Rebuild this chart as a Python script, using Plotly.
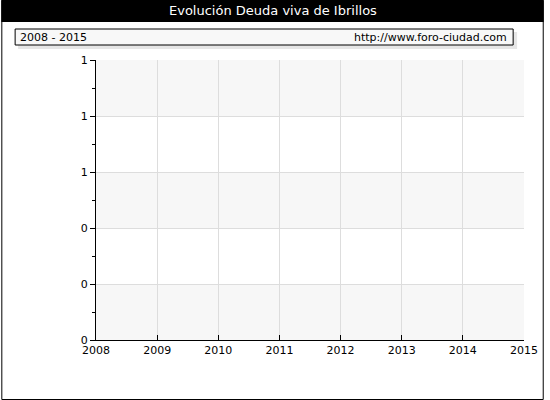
import plotly.graph_objects as go

# -------------------- data --------------------
years = [2008, 2009, 2010, 2011, 2012, 2013, 2014, 2015]
deuda = []  # no debt values published for this municipality

y_ticks = [0, 0.2, 0.4, 0.6, 0.8, 1.0]
y_labels = ["0", "0", "0", "1", "1", "1"]
band_edges = [0, 0.2, 0.4, 0.6, 0.8, 1.0]

title = "Evolución Deuda viva de Ibrillos"
period = "2008 - 2015"
source = "http://www.foro-ciudad.com"

# -------------------- layout geometry (pixels) --------------------
W, H = 550, 400
ml, mr, mt, mb = 96, 20, 60, 60
pw, ph = W - ml - mr, H - mt - mb


def px(x):
    return (x - ml) / pw


def py(y):
    return (H - mb - y) / ph


font = "DejaVu Sans"
band_c = "#f7f7f7"
grid_c = "#dddddd"

fig = go.Figure()
fig.add_trace(go.Scatter(x=years[:len(deuda)], y=deuda, mode="lines",
                         line=dict(color="#3366cc", width=2), showlegend=False))

shapes = []
# alternating background bands (top band gray)
for i in range(len(band_edges) - 1):
    if (len(band_edges) - 2 - i) % 2 == 0:
        shapes.append(dict(type="rect", xref="paper", yref="y", x0=0, x1=1,
                           y0=band_edges[i], y1=band_edges[i + 1],
                           fillcolor=band_c, line_width=0, layer="below"))

# title bar
shapes.append(dict(type="rect", xref="paper", yref="paper",
                   x0=px(0), x1=px(W), y0=py(22), y1=py(0),
                   fillcolor="black", line_width=0))
# outer frame
shapes.append(dict(type="rect", xref="paper", yref="paper",
                   x0=px(0.5), x1=px(W - 0.5), y0=py(H - 0.5), y1=py(0.5),
                   line=dict(color="black", width=1)))
# info box shadow + box
shapes.append(dict(type="rect", xref="paper", yref="paper",
                   x0=px(17), x1=px(523), y0=py(49), y1=py(32),
                   fillcolor="#e6e6e6", line_width=0))
shapes.append(dict(type="rect", xref="paper", yref="paper",
                   x0=px(14), x1=px(519), y0=py(45), y1=py(29),
                   fillcolor="#f8f8f8", line=dict(color="black", width=1)))

annotations = [
    dict(text=title, xref="paper", yref="paper", x=px(W / 2), y=py(11),
         showarrow=False, xanchor="center", yanchor="middle",
         font=dict(family=font, size=13, color="white")),
    dict(text=period, xref="paper", yref="paper", x=px(17), y=py(37),
         showarrow=False, xanchor="left", yanchor="middle",
         font=dict(family=font, size=11, color="black")),
    dict(text=source, xref="paper", yref="paper", x=px(515), y=py(37),
         showarrow=False, xanchor="right", yanchor="middle",
         font=dict(family=font, size=11, color="black")),
]

fig.update_layout(
    width=W, height=H,
    margin=dict(l=ml, r=mr, t=mt, b=mb),
    paper_bgcolor="white", plot_bgcolor="white",
    font=dict(family=font, size=11, color="black"),
    shapes=shapes, annotations=annotations,
    showlegend=False,
)

fig.update_xaxes(range=[years[0], years[-1]], tickvals=years,
                 ticks="inside", ticklen=5, tickcolor="black",
                 showline=True, linecolor="black", linewidth=1,
                 showgrid=True, gridcolor=grid_c, gridwidth=1,
                 zeroline=False, fixedrange=True,
                 tickfont=dict(family=font, size=11))
fig.update_yaxes(range=[y_ticks[0], y_ticks[-1]], tickvals=y_ticks, ticktext=y_labels,
                 ticks="outside", ticklen=5, tickcolor="black",
                 minor=dict(dtick=0.1, ticks="outside", ticklen=3, tickcolor="black", showgrid=False),
                 showline=True, linecolor="black", linewidth=1,
                 showgrid=True, gridcolor=grid_c, gridwidth=1,
                 zeroline=False, fixedrange=True,
                 tickfont=dict(family=font, size=11))

# page body has a default 8px margin and may get scrollbars; drop both
fig.write_html("out.html", config={"displayModeBar": False},
               post_script="document.body.style.margin='0';"
                           "document.body.style.overflow='hidden';")
